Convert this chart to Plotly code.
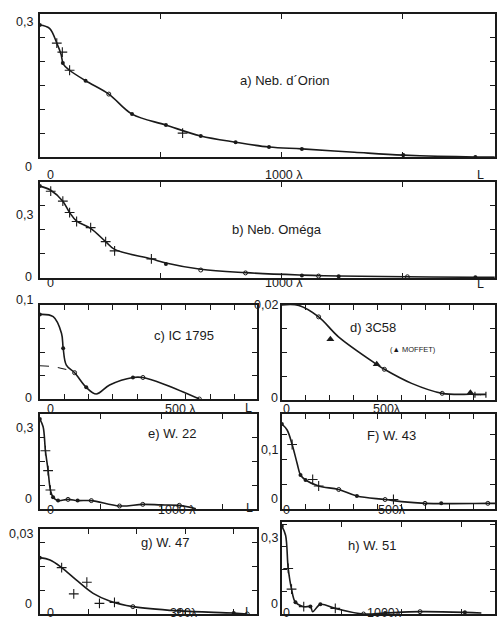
import plotly.graph_objects as go

W, H = 497, 626

# ---------------- data (lambda, visibility) ----------------
# a) Neb. d'Orion
a_curve_x = [0, 40, 70, 88, 97, 123, 189, 285, 381, 521, 665, 809, 947, 1083, 1300, 1502, 1800, 1880]
a_curve_y = [0.277, 0.27, 0.239, 0.215, 0.195, 0.182, 0.16, 0.132, 0.09, 0.067, 0.044, 0.031, 0.021, 0.017, 0.01, 0.004, 0.0, 0.0]
a_dot_x = [0, 95, 189, 381, 521, 665, 809, 947, 1083, 1502, 1800]
a_dot_y = [0.277, 0.197, 0.16, 0.09, 0.067, 0.044, 0.031, 0.021, 0.017, 0.004, 0.0]
a_cross_x = [70, 93, 123, 590]
a_cross_y = [0.239, 0.22, 0.182, 0.05]
a_open_x = [285]
a_open_y = [0.132]

# b) Neb. Omega
b_curve_x = [0, 45, 95, 123, 152, 210, 272, 309, 461, 521, 665, 850, 1083, 1152, 1235, 1519, 1800, 1880]
b_curve_y = [0.379, 0.362, 0.317, 0.27, 0.235, 0.205, 0.15, 0.118, 0.079, 0.062, 0.036, 0.022, 0.012, 0.01, 0.008, 0.005, 0.003, 0.003]
b_dot_x = [0, 521, 1083, 1235, 1800]
b_dot_y = [0.379, 0.058, 0.01, 0.007, 0.003]
b_cross_x = [45, 95, 123, 152, 210, 272, 309, 461]
b_cross_y = [0.358, 0.317, 0.27, 0.233, 0.208, 0.15, 0.112, 0.079]
b_open_x = [665, 850, 1152, 1519]
b_open_y = [0.033, 0.021, 0.008, 0.005]

# c) IC 1795
c_curve_x = [0, 55, 89, 96, 109, 143, 191, 232, 287, 383, 424, 519, 656]
c_curve_y = [0.090, 0.0876, 0.070, 0.054, 0.036, 0.028, 0.0124, 0.0053, 0.0149, 0.0229, 0.0229, 0.0149, 0.0]
c_dash_x = [0, 50, 100, 140]
c_dash_y = [0.0354, 0.0345, 0.032, 0.029]
c_dot_x = [0, 96, 191, 383]
c_dot_y = [0.090, 0.054, 0.0124, 0.0229]
c_open_x = [143, 424, 656]
c_open_y = [0.028, 0.0229, 0.0]

# d) 3C58
d_curve_x = [0, 71, 154, 237, 397, 429, 543, 671, 792, 854]
d_curve_y = [0.0200, 0.0199, 0.0175, 0.0133, 0.0075, 0.00646, 0.0035, 0.0014, 0.0012, 0.0012]
d_open_x = [154, 429, 671]
d_open_y = [0.0175, 0.00646, 0.0014]
d_tri_x = [203, 397, 789]
d_tri_y = [0.0128, 0.0075, 0.00154]
d_err_x = [831]
d_err_y = [0.0011]
d_err_half = [23]

# e) W. 22
e_curve_x = [0, 27, 46, 68, 87, 109, 150, 232, 311, 424, 656, 847, 997, 1148, 1284]
e_curve_y = [0.375, 0.343, 0.243, 0.16, 0.079, 0.049, 0.035, 0.04, 0.035, 0.035, 0.0125, 0.0194, 0.017, 0.0153, 0.0014]
e_dot_x = [0, 109, 150, 311]
e_dot_y = [0.375, 0.049, 0.035, 0.035]
e_cross_x = [46, 68, 87]
e_cross_y = [0.243, 0.16, 0.079]
e_open_x = [232, 424, 656, 847, 1148]
e_open_y = [0.04, 0.035, 0.0125, 0.0194, 0.0153]

# f) W. 43
f_curve_x = [0, 22, 43, 64, 78, 99, 154, 238, 314, 432, 501, 599, 862, 892]
f_curve_y = [0.17, 0.158, 0.129, 0.091, 0.068, 0.058, 0.046, 0.039, 0.026, 0.019, 0.0147, 0.0113, 0.0113, 0.0113]
f_dot_x = [0, 78, 99, 314, 667]
f_dot_y = [0.17, 0.068, 0.058, 0.026, 0.0113]
f_cross_x = [43, 129, 154, 467]
f_cross_y = [0.129, 0.059, 0.046, 0.019]
f_open_x = [238, 432, 599, 862]
f_open_y = [0.039, 0.019, 0.0113, 0.0113]

# g) W. 47
g_curve_x = [0, 21, 45, 75, 110, 144, 192, 287, 400, 428]
g_curve_y = [0.0238, 0.0228, 0.0196, 0.0144, 0.0087, 0.0055, 0.0031, 0.0013, 0.0004, 0.0]
g_dot_x = [0, 400]
g_dot_y = [0.0238, 0.0004]
g_cross_x = [45, 70, 97, 123, 154]
g_cross_y = [0.0196, 0.0085, 0.0134, 0.0045, 0.0049]
g_open_x = [192, 287, 428]
g_open_y = [0.0031, 0.0013, 0.0]

# h) W. 51
h_curve_x = [0, 31, 53, 81, 114, 183, 239, 258, 322, 447, 683, 864, 1156, 1531, 1669]
h_curve_y = [0.392, 0.351, 0.203, 0.111, 0.052, 0.0326, 0.0326, 0.0104, 0.043, 0.025, 0.0, 0.0044, 0.0104, 0.0074, 0.0044]
h_dot_x = [0, 114, 239, 322, 864, 1531]
h_dot_y = [0.392, 0.052, 0.033, 0.043, 0.0044, 0.0074]
h_cross_x = [53, 81, 183, 447]
h_cross_y = [0.203, 0.111, 0.033, 0.025]
h_open_x = [683, 1156]
h_open_y = [0.0, 0.0104]

titles = ["a) Neb. d\u00b4Orion", "b) Neb. Om\u00e9ga", "c) IC 1795", "d) 3C58",
          "e) W. 22", "F) W. 43", "g) W. 47", "h) W. 51"]
y_tick_labels = ["0,3", "0,3", "0,1", "0,02", "0,3", "0,1", "0,03", "0,3"]
x_tick_labels = ["1000 \u03bb", "1000 \u03bb", "500 \u03bb", "500\u03bb", "1000 \u03bb", "500\u03bb", "300\u03bb", "1000\u03bb"]

# ---------------- layout geometry (pixels) ----------------
panels = [
    dict(box=(40, 497, 14, 157), xr=[0, 1881], yr=[0, 0.3], dx=500, dy=0.05),
    dict(box=(40, 497, 182, 278), xr=[0, 1881], yr=[0, 0.396], dx=500, dy=0.1),
    dict(box=(40, 258, 305, 399), xr=[0, 893], yr=[0, 0.1], dx=100, dy=0.025),
    dict(box=(283, 497, 305, 400), xr=[0, 892], yr=[0, 0.02], dx=100, dy=0.005),
    dict(box=(40, 258, 414, 509), xr=[0, 1787], yr=[0, 0.396], dx=500, dy=0.1),
    dict(box=(283, 497, 414, 509), xr=[0, 892], yr=[0, 0.19], dx=100, dy=0.05),
    dict(box=(40, 258, 529, 614), xr=[0, 448], yr=[0, 0.0359], dx=100, dy=0.01),
    dict(box=(283, 497, 522, 614), xr=[0, 1783], yr=[0, 0.41], dx=500, dy=0.1),
]

series = [
    (a_curve_x, a_curve_y, a_dot_x, a_dot_y, a_cross_x, a_cross_y, a_open_x, a_open_y),
    (b_curve_x, b_curve_y, b_dot_x, b_dot_y, b_cross_x, b_cross_y, b_open_x, b_open_y),
    (c_curve_x, c_curve_y, c_dot_x, c_dot_y, [], [], c_open_x, c_open_y),
    (d_curve_x, d_curve_y, [], [], [], [], d_open_x, d_open_y),
    (e_curve_x, e_curve_y, e_dot_x, e_dot_y, e_cross_x, e_cross_y, e_open_x, e_open_y),
    (f_curve_x, f_curve_y, f_dot_x, f_dot_y, f_cross_x, f_cross_y, f_open_x, f_open_y),
    (g_curve_x, g_curve_y, g_dot_x, g_dot_y, g_cross_x, g_cross_y, g_open_x, g_open_y),
    (h_curve_x, h_curve_y, h_dot_x, h_dot_y, h_cross_x, h_cross_y, h_open_x, h_open_y),
]

INK = "#1a1a1a"
fig = go.Figure()
layout = dict(width=W, height=H, margin=dict(l=0, r=0, t=0, b=0),
              paper_bgcolor="white", plot_bgcolor="white", showlegend=False)

def px(x, y):
    return x / W, 1 - y / H

annotations = []
for i, (p, s) in enumerate(zip(panels, series)):
    n = i + 1
    l, r, t, b = p["box"]
    xa = "xaxis" if n == 1 else f"xaxis{n}"
    ya = "yaxis" if n == 1 else f"yaxis{n}"
    xr = "x" if n == 1 else f"x{n}"
    yr = "y" if n == 1 else f"y{n}"
    common = dict(showline=True, linecolor=INK, linewidth=1.7, mirror="ticks",
                  ticks="inside", ticklen=5, tickwidth=1.2, tickcolor=INK,
                  showgrid=False, zeroline=False, showticklabels=False)
    layout[xa] = dict(domain=[l / W, min(r / W, 1.0)], range=p["xr"], dtick=p["dx"],
                      tick0=0, anchor=yr, **common)
    layout[ya] = dict(domain=[1 - b / H, 1 - t / H], range=p["yr"], dtick=p["dy"],
                      tick0=0, anchor=xr, **common)
    cx, cy, dx_, dy_, kx, ky, ox, oy = s
    fig.add_trace(go.Scatter(x=cx, y=cy, mode="lines", xaxis=xr, yaxis=yr,
                             line=dict(color=INK, width=1.6, shape="spline", smoothing=1.0),
                             cliponaxis=True))
    if dx_:
        fig.add_trace(go.Scatter(x=dx_, y=dy_, mode="markers", xaxis=xr, yaxis=yr,
                                 marker=dict(symbol="circle", size=4, color=INK)))
    if kx:
        fig.add_trace(go.Scatter(x=kx, y=ky, mode="markers", xaxis=xr, yaxis=yr,
                                 marker=dict(symbol="cross-thin-open", size=7, color=INK,
                                             line=dict(color=INK, width=1.1))))
    if ox:
        fig.add_trace(go.Scatter(x=ox, y=oy, mode="markers", xaxis=xr, yaxis=yr,
                                 marker=dict(symbol="circle-open", size=4, color=INK,
                                             line=dict(color=INK, width=1))))
    if n == 3:
        fig.add_trace(go.Scatter(x=c_dash_x, y=c_dash_y, mode="lines", xaxis=xr, yaxis=yr,
                                 line=dict(color=INK, width=1.1, dash="dash", shape="spline")))
    if n == 4:
        fig.add_trace(go.Scatter(x=d_tri_x, y=d_tri_y, mode="markers", xaxis=xr, yaxis=yr,
                                 marker=dict(symbol="triangle-up", size=7, color=INK)))
        fig.add_trace(go.Scatter(x=d_err_x, y=d_err_y, mode="markers", xaxis=xr, yaxis=yr,
                                 marker=dict(size=1, color=INK),
                                 error_x=dict(type="data", array=d_err_half, color=INK,
                                              thickness=1.2, width=3)))

# ---------------- text ----------------
font = dict(family="Liberation Sans", size=12.5, color=INK)
tfont = dict(family="Liberation Sans", size=13, color=INK)
title_pos = [(286, 71), (278, 229), (153, 335), (400, 327), (147, 443), (420, 445), (140, 552), (400, 555)]
ytick_pos = [(35, 13), (35, 206), (35, 300), (281, 305), (35, 437), (281, 459), (35, 543), (281, 547)]
yzero_pos = [(34, 158), (34, 277), (34, 398), (281, 398), (34, 508), (281, 508), (34, 613), (281, 613)]
xzero_pos = [(45, 166), (45, 283), (45, 409), (288, 409), (45, 519), (288, 519), (45, 622), (288, 622)]
xlab_pos = [(285, 166), (285, 283), (164, 409), (405, 409), (178, 519), (410, 519), (185, 622), (406, 622)]
L_pos = [(488, 166), (488, 284), (250, 408), None, (251, 517), None, (250, 621), None]

for i in range(8):
    x, y = px(*title_pos[i])
    annotations.append(dict(x=x, y=y, xref="paper", yref="paper", text=titles[i],
                            showarrow=False, font=tfont))
    x, y = px(*ytick_pos[i])
    annotations.append(dict(x=x, y=y, xref="paper", yref="paper", text=y_tick_labels[i],
                            showarrow=False, xanchor="right", font=font))
    x, y = px(*yzero_pos[i])
    annotations.append(dict(x=x, y=y, xref="paper", yref="paper", text="0",
                            showarrow=False, xanchor="right", font=font))
    x, y = px(*xzero_pos[i])
    annotations.append(dict(x=x, y=y, xref="paper", yref="paper", text="0",
                            showarrow=False, font=font))
    x, y = px(*xlab_pos[i])
    annotations.append(dict(x=x, y=y, xref="paper", yref="paper", text=x_tick_labels[i],
                            showarrow=False, font=font))
    if L_pos[i]:
        x, y = px(*L_pos[i])
        annotations.append(dict(x=x, y=y, xref="paper", yref="paper", text="L",
                                showarrow=False, font=font))

x, y = px(440, 349)
annotations.append(dict(x=x, y=y, xref="paper", yref="paper", text="(\u25b2 MOFFET)",
                        showarrow=False, font=dict(family="Liberation Sans", size=7.5, color=INK)))

layout["annotations"] = annotations
fig.update_layout(**layout)
fig.write_html("out.html")
